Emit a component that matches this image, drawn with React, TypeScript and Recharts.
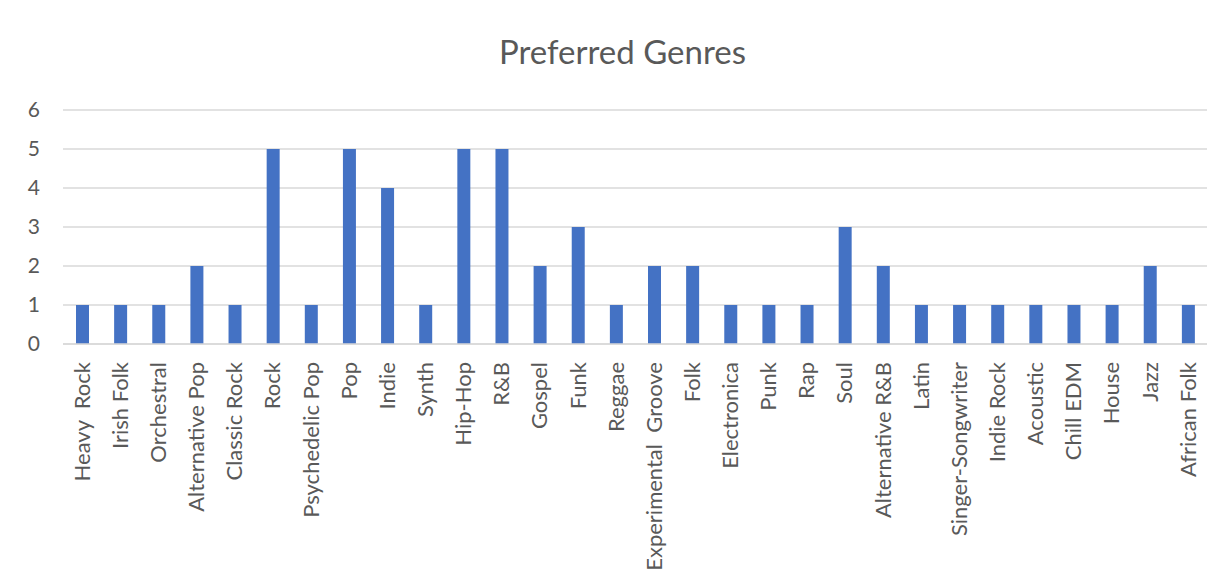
import React from 'react';
import { BarChart, Bar, XAxis, YAxis, CartesianGrid } from 'recharts';

const genres = [
  'Heavy  Rock', 'Irish Folk', 'Orchestral', 'Alternative Pop', 'Classic Rock',
  'Rock', 'Psychedelic Pop', 'Pop', 'Indie', 'Synth',
  'Hip-Hop', 'R&B', 'Gospel', 'Funk', 'Reggae',
  'Experimental  Groove', 'Folk', 'Electronica', 'Punk', 'Rap',
  'Soul', 'Alternative R&B', 'Latin', 'Singer-Songwriter', 'Indie Rock',
  'Acoustic', 'Chill EDM', 'House', 'Jazz', 'African Folk',
];

const counts = [
  1, 1, 1, 2, 1,
  5, 1, 5, 4, 1,
  5, 5, 2, 3, 1,
  2, 2, 1, 1, 1,
  3, 2, 1, 1, 1,
  1, 1, 1, 2, 1,
];

const yTicks = [0, 1, 2, 3, 4, 5, 6];

const data = genres.map((name, i) => ({ name, count: counts[i] }));

const FONT = 'Lato, "Open Sans", sans-serif';
const TEXT = '#595959';

const GenreTick = (props: any) => {
  const { x, y, payload } = props;
  return (
    <g transform={`translate(${x},${y})`}>
      <text
        transform="rotate(-90)"
        x={-10}
        y={0}
        dy="0.35em"
        textAnchor="end"
        fill={TEXT}
        fontSize={22}
        fontFamily={FONT}
        style={{ whiteSpace: 'pre' }}
      >
        {payload.value}
      </text>
    </g>
  );
};

const App: React.FC = () => {
  return (
    <div style={{ position: 'absolute', left: 0, top: 0, width: 1221, height: 581, background: '#fff' }}>
      <div
        style={{
          position: 'absolute',
          top: 32,
          left: 0,
          width: 1245,
          textAlign: 'center',
          fontFamily: FONT,
          fontSize: 33,
          lineHeight: 1.2,
          color: TEXT,
        }}
      >
        Preferred Genres
      </div>
      <BarChart
        width={1221}
        height={581}
        data={data}
        margin={{ top: 110, right: 14, left: 0, bottom: 0 }}
      >
        <CartesianGrid vertical={false} stroke="#d9d9d9" strokeWidth={1.5} />
        <XAxis
          dataKey="name"
          interval={0}
          height={237}
          tickLine={false}
          axisLine={{ stroke: '#d9d9d9', strokeWidth: 1.5 }}
          tick={<GenreTick />}
        />
        <YAxis
          domain={[0, 6]}
          ticks={yTicks}
          width={63}
          tickLine={false}
          axisLine={false}
          tickMargin={17}
          tick={{ fill: TEXT, fontSize: 21, fontFamily: FONT }}
        />
        <Bar dataKey="count" fill="#4472C4" barSize={13} isAnimationActive={false} />
      </BarChart>
    </div>
  );
};

export default App;
